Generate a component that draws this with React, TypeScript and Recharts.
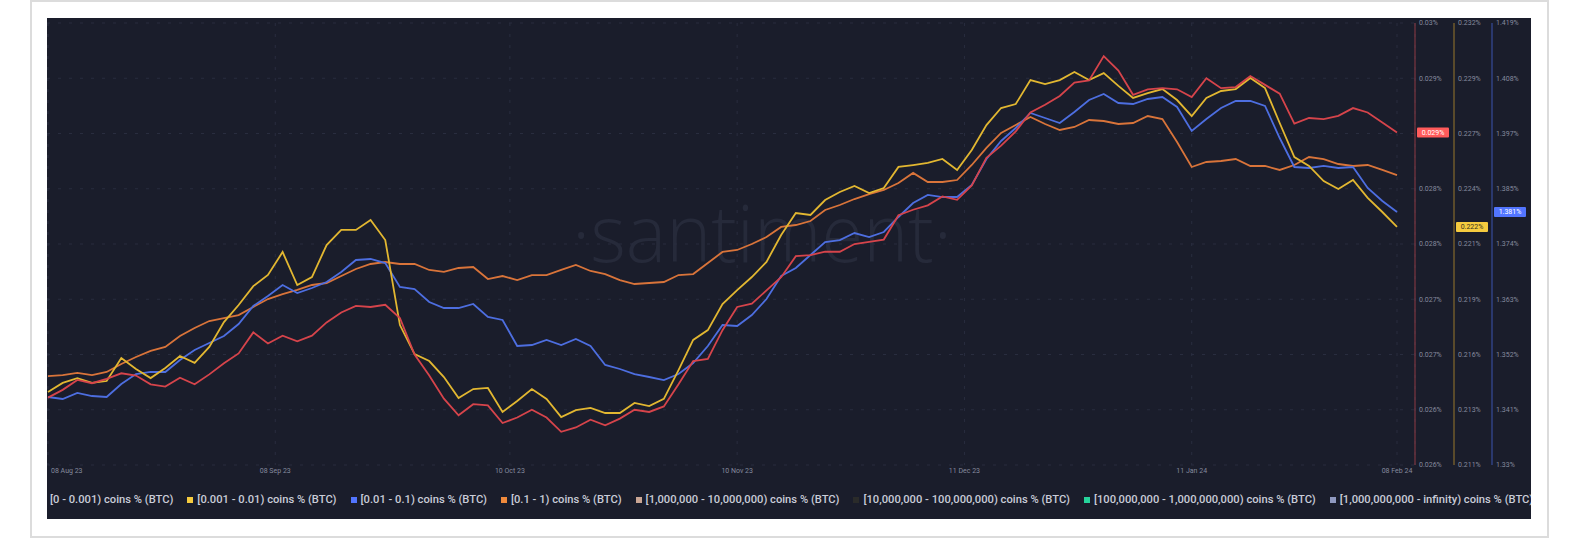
import React from 'react'
import { LineChart, Line, XAxis, YAxis, CartesianGrid } from 'recharts'

// sampled every 2 days starting 08 Aug 23
const dayOffsets = Array.from({ length: 93 }, (_, i) => i * 2)

const xTickDays = [0, 31, 63, 94, 125, 156, 184]
const xTickLabels = ['08 Aug 23', '08 Sep 23', '10 Oct 23', '10 Nov 23', '11 Dec 23', '11 Jan 24', '08 Feb 24']

// [0 - 0.001) coins % (BTC)
const tinyHolders = [
    0.02661, 0.02668, 0.02677, 0.02674, 0.02678, 0.02683, 0.02681, 0.02673, 0.02671, 0.02679,
    0.02673, 0.02682, 0.02692, 0.02701, 0.0272, 0.0271, 0.02717, 0.02712, 0.02717, 0.02729,
    0.02738, 0.02744, 0.02743, 0.02745, 0.02733, 0.027, 0.02681, 0.0266, 0.02645, 0.02655,
    0.02654, 0.02638, 0.02643, 0.0265, 0.02643, 0.0263, 0.02634, 0.02641, 0.02636, 0.02642,
    0.0265, 0.02648, 0.02653, 0.02673, 0.02694, 0.02696, 0.02722, 0.02743, 0.02746, 0.02758,
    0.0277, 0.02789, 0.0279, 0.02793, 0.02793, 0.028, 0.02802, 0.02804, 0.02826, 0.02831,
    0.02835, 0.02843, 0.0284, 0.02853, 0.02878, 0.02889, 0.02902, 0.02919, 0.02926, 0.02934,
    0.02946, 0.02948, 0.0297, 0.02957, 0.02935, 0.0294, 0.02941, 0.0294, 0.02933, 0.0295,
    0.02941, 0.02942, 0.02952, 0.02944, 0.02936, 0.02909, 0.02914, 0.02913, 0.02916, 0.02923,
    0.02919, 0.0291, 0.02901,
]

// [0.001 - 0.01) coins % (BTC)
const smallHolders = [
    0.21447, 0.2149, 0.21513, 0.2149, 0.21499, 0.21608, 0.21556, 0.21513, 0.21561, 0.21618,
    0.21585, 0.21661, 0.21779, 0.2186, 0.2195, 0.22003, 0.22112, 0.21955, 0.21993, 0.22145,
    0.22217, 0.22217, 0.22264, 0.22169, 0.21765, 0.21627, 0.21594, 0.21518, 0.21418, 0.21461,
    0.21466, 0.21352, 0.21404, 0.21461, 0.21414, 0.21328, 0.21361, 0.21371, 0.21347, 0.21347,
    0.21395, 0.2138, 0.21414, 0.21551, 0.21694, 0.21741, 0.21865, 0.21931, 0.21993, 0.22065,
    0.22193, 0.22297, 0.22288, 0.22359, 0.22397, 0.22426, 0.22392, 0.22416, 0.22516, 0.22525,
    0.22535, 0.22554, 0.22502, 0.22597, 0.22715, 0.22796, 0.22815, 0.22929, 0.2291, 0.22929,
    0.22967, 0.22929, 0.22962, 0.22901, 0.22844, 0.22867, 0.22886, 0.22834, 0.22758, 0.22844,
    0.22877, 0.22886, 0.22939, 0.22891, 0.22725, 0.22563, 0.22521, 0.22449, 0.22411, 0.22454,
    0.22369, 0.22302, 0.22231,
]

// [0.01 - 0.1) coins % (BTC)
const midHolders = [
    1.34369, 1.34329, 1.3445, 1.34389, 1.34369, 1.34631, 1.34832, 1.34873, 1.34873, 1.35114,
    1.35316, 1.35456, 1.35597, 1.35839, 1.36202, 1.36403, 1.36624, 1.36463, 1.36564, 1.36685,
    1.36886, 1.37128, 1.37148, 1.37067, 1.36584, 1.36544, 1.36282, 1.36161, 1.36161, 1.36242,
    1.3598, 1.3592, 1.35396, 1.35416, 1.35517, 1.35416, 1.35537, 1.35396, 1.35014, 1.34933,
    1.34832, 1.34772, 1.34711, 1.34832, 1.35054, 1.35396, 1.35819, 1.35799, 1.3602, 1.36342,
    1.36806, 1.36967, 1.37228, 1.3749, 1.3753, 1.37671, 1.37591, 1.37692, 1.37994, 1.38276,
    1.38437, 1.38396, 1.38396, 1.38638, 1.39162, 1.39524, 1.39786, 1.40088, 1.39987, 1.39886,
    1.40108, 1.4035, 1.4047, 1.40289, 1.40269, 1.4037, 1.4041, 1.40209, 1.39725, 1.39967,
    1.40188, 1.40329, 1.40329, 1.40229, 1.39584, 1.39, 1.3898, 1.39021, 1.3898, 1.39,
    1.38578, 1.38316, 1.38094,
]

// [0.1 - 1) coins % (BTC)
const largeHolders = [
    1.60805, 1.60814, 1.60833, 1.60814, 1.60842, 1.60914, 1.60977, 1.61032, 1.61068, 1.61167,
    1.6124, 1.61303, 1.6133, 1.61357, 1.6143, 1.61502, 1.61547, 1.61584, 1.61629, 1.61647,
    1.6171, 1.61774, 1.61819, 1.61837, 1.61819, 1.61819, 1.61765, 1.61747, 1.61783, 1.61792,
    1.61683, 1.6171, 1.61674, 1.61719, 1.61719, 1.61765, 1.6181, 1.61756, 1.61728, 1.61674,
    1.61638, 1.61647, 1.61656, 1.61719, 1.61728, 1.61828, 1.61928, 1.61946, 1.62, 1.62063,
    1.62154, 1.62172, 1.62208, 1.62308, 1.62353, 1.62407, 1.62452, 1.62489, 1.62552, 1.62643,
    1.62561, 1.62561, 1.62579, 1.62715, 1.62869, 1.63005, 1.63077, 1.63149, 1.63086, 1.63032,
    1.63059, 1.63122, 1.63113, 1.63086, 1.63095, 1.63158, 1.63131, 1.62923, 1.62697, 1.62742,
    1.62751, 1.62769, 1.62706, 1.62706, 1.6267, 1.62715, 1.62787, 1.62769, 1.62724, 1.62706,
    1.62715, 1.6267, 1.62624,
]

const tinyDomain = [0.026, 0.03]
const smallDomain = [0.211, 0.232]
const midDomain = [1.33, 1.419]
const largeDomain = [1.6, 1.64]

// bottom to top
const tinyTickLabels = ['0.026%', '0.026%', '0.027%', '0.027%', '0.028%', '0.028%', '0.029%', '0.029%', '0.03%']
const smallTickLabels = ['0.211%', '0.213%', '0.216%', '0.219%', '0.221%', '0.224%', '0.227%', '0.229%', '0.232%']
const midTickLabels = ['1.33%', '1.341%', '1.352%', '1.363%', '1.374%', '1.385%', '1.397%', '1.408%', '1.419%']

const legendNames = [
    '[0 - 0.001) coins % (BTC)',
    '[0.001 - 0.01) coins % (BTC)',
    '[0.01 - 0.1) coins % (BTC)',
    '[0.1 - 1) coins % (BTC)',
    '[1,000,000 - 10,000,000) coins % (BTC)',
    '[10,000,000 - 100,000,000) coins % (BTC)',
    '[100,000,000 - 1,000,000,000) coins % (BTC)',
    '[1,000,000,000 - infinity) coins % (BTC)',
]
const legendColors = ['#ff5b5b', '#f5cb3f', '#5275ff', '#f08a3c', '#c9a594', '#2a2b2a', '#26d39b', '#8f99c0']

const data = dayOffsets.map((day, i) => ({
    day,
    tiny: tinyHolders[i],
    small: smallHolders[i],
    mid: midHolders[i],
    large: largeHolders[i],
}))

const ticksFor = (domain: number[]) =>
    Array.from({ length: 9 }, (_, i) => domain[0] + ((domain[1] - domain[0]) * i) / 8)

const fmtPct = (v: number) => `${parseFloat(v.toFixed(3))}%`

const LABEL = '#858a9e'

// eslint-disable-next-line @typescript-eslint/no-explicit-any
const makeYTick = (labels: string[], last: number, badge: string, badgeText: string) => (props: any) => {
    const { x, y, payload, index } = props
    if (index === labels.length) {
        return (
            <g>
                <rect x={x - 2} y={y - 5} width={32} height={10} fill={badge} rx={1} />
                <text x={x + 14} y={y} dy="0.35em" textAnchor="middle" fontSize={7} fill={badgeText}>
                    {fmtPct(last)}
                </text>
            </g>
        )
    }
    return (
        <text x={x} y={y} dy="0.35em" textAnchor="start" fontSize={7} fill={LABEL}>
            {labels[index] ?? fmtPct(payload.value)}
        </text>
    )
}

// eslint-disable-next-line @typescript-eslint/no-explicit-any
const XTick = ({ x, y, payload, index }: any) => (
    <text x={index === 0 ? x + 3 : x} y={y} dy="0.71em" textAnchor={index === 0 ? 'start' : 'middle'} fontSize={7} fill={LABEL}>
        {xTickLabels[xTickDays.indexOf(payload.value)]}
    </text>
)

export default function App() {
    const tinyLast = tinyHolders[tinyHolders.length - 1]
    const smallLast = smallHolders[smallHolders.length - 1]
    const midLast = midHolders[midHolders.length - 1]

    return (
        <div style={{ position: 'relative', width: 1592, height: 539, background: '#fff', overflow: 'hidden', fontFamily: 'Roboto, sans-serif' }}>
            <style>{'body{margin:0}'}</style>
            <div style={{ position: 'absolute', left: 30, top: 0, width: 1519, height: 538, border: '2px solid #dcdcdc', boxSizing: 'border-box' }} />
            <div style={{ position: 'absolute', left: 47, top: 18, width: 1484, height: 501, background: '#1a1d2b', overflow: 'hidden' }}>
                <svg width={1484} height={501} style={{ position: 'absolute', left: 0, top: 0 }}>
                    <text x={525} y={244} fontSize={80} fontWeight={300} fill="#262a3a" textLength={380} lengthAdjust="spacingAndGlyphs" fontFamily="'Open Sans', sans-serif">
                        ·santiment·
                    </text>
                </svg>
                <div style={{ position: 'absolute', left: 0, top: 0 }}>
                    <LineChart width={1484} height={467} data={data} margin={{ top: 5, right: 0, left: 0, bottom: 0 }}>
                        <CartesianGrid yAxisId="axis4" stroke="#292d3f" strokeDasharray="3 8" />
                        <XAxis
                            dataKey="day"
                            type="number"
                            domain={[0, 184]}
                            ticks={xTickDays}
                            interval={0}
                            padding={{ left: 1, right: 18 }}
                            axisLine={false}
                            tickLine={false}
                            tickSize={0}
                            tickMargin={3}
                            height={20}
                            tick={<XTick />}
                        />
                        {/* right axes sit in id order, innermost first */}
                        <YAxis
                            yAxisId="axis1"
                            orientation="right"
                            domain={tinyDomain}
                            ticks={[...ticksFor(tinyDomain), tinyLast]}
                            interval={0}
                            width={39}
                            axisLine={{ stroke: '#8e3a44' }}
                            tickLine={false}
                            tickSize={0}
                            tickMargin={4}
                            tick={makeYTick(tinyTickLabels, tinyLast, '#ff5b5b', '#ffffff')}
                            allowDataOverflow
                        />
                        <YAxis
                            yAxisId="axis2"
                            orientation="right"
                            domain={smallDomain}
                            ticks={[...ticksFor(smallDomain), smallLast]}
                            interval={0}
                            width={38}
                            axisLine={{ stroke: '#98782c' }}
                            tickLine={false}
                            tickSize={0}
                            tickMargin={4}
                            tick={makeYTick(smallTickLabels, smallLast, '#f5cb3f', '#3a3320')}
                            allowDataOverflow
                        />
                        <YAxis
                            yAxisId="axis3"
                            orientation="right"
                            domain={midDomain}
                            ticks={[...ticksFor(midDomain), midLast]}
                            interval={0}
                            width={39}
                            axisLine={{ stroke: '#3b55b0' }}
                            tickLine={false}
                            tickSize={0}
                            tickMargin={4}
                            tick={makeYTick(midTickLabels, midLast, '#5275ff', '#ffffff')}
                            allowDataOverflow
                        />
                        <YAxis yAxisId="axis4" hide domain={largeDomain} ticks={ticksFor(largeDomain)} allowDataOverflow />
                        <Line yAxisId="axis4" dataKey="large" stroke="#d9743a" strokeWidth={1.8} dot={false} isAnimationActive={false} />
                        <Line yAxisId="axis3" dataKey="mid" stroke="#4d6ee0" strokeWidth={1.8} dot={false} isAnimationActive={false} />
                        <Line yAxisId="axis2" dataKey="small" stroke="#e2b731" strokeWidth={1.8} dot={false} isAnimationActive={false} />
                        <Line yAxisId="axis1" dataKey="tiny" stroke="#d6444b" strokeWidth={1.8} dot={false} isAnimationActive={false} />
                    </LineChart>
                </div>
                <div style={{ position: 'absolute', left: 0, top: 475, width: 1484, height: 14, overflow: 'hidden' }}>
                    <div style={{ display: 'flex', alignItems: 'center', gap: 14, marginLeft: -7, whiteSpace: 'nowrap' }}>
                        {legendNames.map((name, i) => (
                            <div key={name} style={{ display: 'flex', alignItems: 'center', gap: 4, flexShrink: 0 }}>
                                <span style={{ display: 'inline-block', width: 6, height: 6, background: legendColors[i] }} />
                                <span style={{ fontSize: 11.2, fontWeight: 500, color: '#c9ccd8', lineHeight: '14px' }}>{name}</span>
                            </div>
                        ))}
                    </div>
                </div>
            </div>
        </div>
    )
}
